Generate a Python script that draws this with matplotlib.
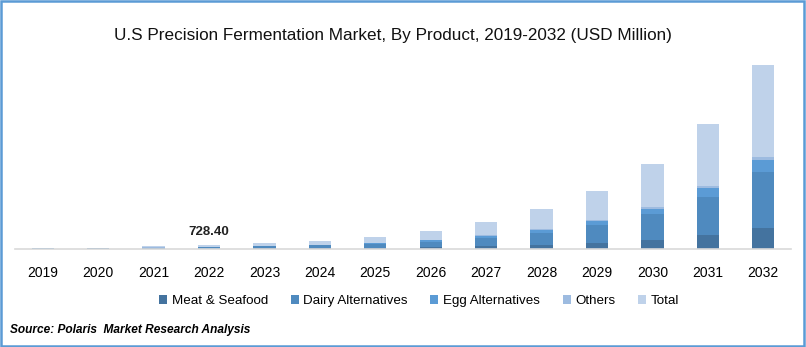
import numpy as np
import matplotlib
matplotlib.use("Agg")
import matplotlib.pyplot as plt
from matplotlib.patches import Rectangle

# data (USD Million)
years = ['2019', '2020', '2021', '2022', '2023', '2024', '2025',
         '2026', '2027', '2028', '2029', '2030', '2031', '2032']
meat = [40, 48, 110, 160, 220, 310, 440, 650, 990, 1450, 2100, 3000, 4600, 6900]
dairy = [110, 135, 305, 445, 610, 855, 1220, 1800, 2740, 4000, 5850, 8600, 12600, 18600]
egg = [22, 27, 60, 90, 125, 175, 250, 390, 560, 830, 1240, 1700, 3000, 4000]
others = [8, 10, 25, 33, 45, 60, 90, 160, 210, 320, 410, 700, 500, 1000]
total = [m + d + e + o for m, d, e, o in zip(meat, dairy, egg, others)]
label_year = '2022'
label_text = '728.40'

series = [('Meat & Seafood', meat, '#44739f'),
          ('Dairy Alternatives', dairy, '#4f8abf'),
          ('Egg Alternatives', egg, '#5b9bd5'),
          ('Others', others, '#9dbbe0'),
          ('Total', total, '#bfd2ea')]

plt.rcParams['font.family'] = ['Liberation Sans', 'DejaVu Sans']

fig = plt.figure(figsize=(8.06, 3.47), dpi=100)
ax = fig.add_axes([15 / 806, 98 / 347, 776 / 806, 189 / 347])

x = np.arange(len(years))
bottom = np.zeros(len(years))
handles = []
for name, vals, col in series:
    b = ax.bar(x, vals, width=0.4, bottom=bottom, color=col, label=name, zorder=2)
    handles.append(b)
    bottom += np.array(vals)

ax.set_xlim(-0.5, len(years) - 0.5)
ax.set_ylim(0, 62500)
ax.set_xticks(x)
ax.set_xticklabels(years, fontsize=10)
ax.tick_params(axis='x', length=0, pad=12)
ax.set_yticks([])
for s in ['top', 'right', 'left']:
    ax.spines[s].set_visible(False)
ax.spines['bottom'].set_color('#d9d9d9')
ax.spines['bottom'].set_linewidth(1.2)

i = years.index(label_year)
ax.annotate(label_text, (x[i], bottom[i]), xytext=(0, 5), textcoords='offset points',
            ha='center', va='bottom', fontsize=9.5, fontweight='bold', color='#222222')

fig.text(0.488, 0.897, 'U.S Precision Fermentation Market, By Product, 2019-2032 (USD Million)',
         ha='center', va='center', fontsize=12.3, color='#111111')

fig.legend(handles=handles, loc='center', bbox_to_anchor=(0.52, 1 - 301 / 347), ncol=5,
           frameon=False, fontsize=9.6, handlelength=0.6, handleheight=0.6,
           handletextpad=0.35, columnspacing=1.7)

fig.text(10 / 806, 1 - 330 / 347, 'Source: Polaris  Market Research Analysis',
         ha='left', va='center', fontsize=8.6, fontweight='bold', fontstyle='italic')

fig.patches.append(Rectangle((0.001, 0.004), 0.997, 0.993, transform=fig.transFigure,
                             fill=False, edgecolor='#5b9bd5', linewidth=1.8))

fig.savefig('out.png', dpi=100)
